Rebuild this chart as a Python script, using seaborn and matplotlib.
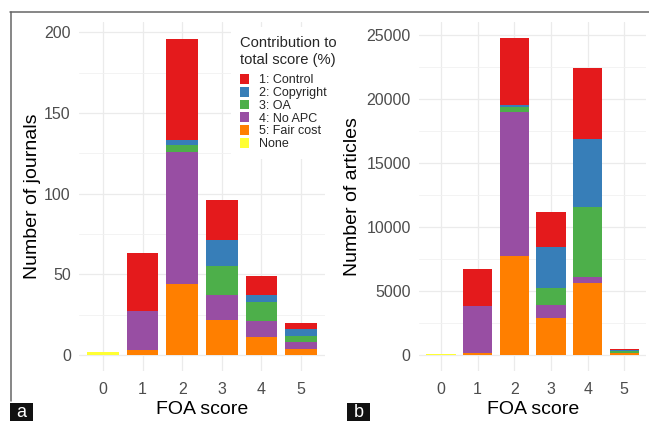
import matplotlib
matplotlib.use("Agg")
import numpy as np
import pandas as pd
import matplotlib.pyplot as plt
import seaborn as sns
from matplotlib.patches import Patch, Rectangle
from matplotlib.lines import Line2D
from matplotlib.ticker import MultipleLocator

# FOA score categories and score components
scores = [0, 1, 2, 3, 4, 5]
components = ["1: Control", "2: Copyright", "3: OA", "4: No APC", "5: Fair cost", "None"]
component_colors = ["#E41A1C", "#377EB8", "#4DAF4A", "#984EA3", "#FF7F00", "#FFFF33"]

# Panel a: number of journals per FOA score, split by contributing component
journals_control = [0, 36, 63, 25, 12, 4]
journals_copyright = [0, 0, 3, 16, 4, 4]
journals_oa = [0, 0, 4, 18, 12, 4]
journals_no_apc = [0, 24, 82, 15, 10, 4]
journals_fair_cost = [0, 3, 44, 22, 11, 4]
journals_none = [2, 0, 0, 0, 0, 0]

# Panel b: number of articles per FOA score, split by contributing component
articles_control = [0, 2850, 5200, 2800, 5550, 80]
articles_copyright = [0, 0, 150, 3150, 5300, 120]
articles_oa = [0, 0, 400, 1350, 5450, 120]
articles_no_apc = [0, 3700, 11250, 1000, 500, 60]
articles_fair_cost = [0, 150, 7750, 2900, 5600, 120]
articles_none = [80, 0, 0, 0, 0, 0]

sns.set_theme(style="white")
plt.rcParams["font.family"] = ["Liberation Sans", "DejaVu Sans"]

W, H = 649, 421
fig = plt.figure(figsize=(W / 100, H / 100), dpi=100)


def px_axes(x0, x1, y_top, y_bot):
    return fig.add_axes([x0 / W, 1 - y_bot / H, (x1 - x0) / W, (y_bot - y_top) / H])


def stacked(ax, layers):
    """layers: list of (values, color) from bottom to top."""
    df = pd.DataFrame({"score": scores})
    cum = np.zeros(len(scores))
    tops = []
    for vals, col in layers:
        cum = cum + np.asarray(vals, dtype=float)
        tops.append((cum.copy(), col))
    # draw from the tallest cumulative layer down so lower layers sit on top
    for top, col in reversed(tops):
        df["top"] = top
        sns.barplot(data=df, x="score", y="top", color=col, saturation=1,
                    width=0.8, linewidth=0, errorbar=None, ax=ax, zorder=3)


def style(ax, ylim, major, minor, ylabel, xlabel_y, ylabel_x):
    ax.set_xlim(-0.6, 5.6)
    ax.set_ylim(*ylim)
    ax.yaxis.set_major_locator(MultipleLocator(major))
    ax.yaxis.set_minor_locator(MultipleLocator(minor))
    ax.grid(True, which="major", color="#EBEBEB", linewidth=0.9, zorder=0)
    ax.grid(True, which="minor", axis="y", color="#F1F1F1", linewidth=0.6, zorder=0)
    ax.set_axisbelow(True)
    for s in ax.spines.values():
        s.set_visible(False)
    ax.tick_params(axis="both", which="both", length=0, labelsize=11.5,
                   labelcolor="#4D4D4D")
    ax.tick_params(axis="y", pad=6)
    ax.tick_params(axis="x", pad=8)
    ax.set_xlabel("FOA score", fontsize=14, color="black", va="center")
    ax.set_ylabel(ylabel, fontsize=14, color="black", va="center")
    ax.xaxis.set_label_coords(0.5, xlabel_y)
    ax.yaxis.set_label_coords(ylabel_x, 0.5)


# ---- panel a ----
ax1 = px_axes(79.2, 324.8, 22, 371)
stacked(ax1, [(journals_none, component_colors[5]),
              (journals_fair_cost, component_colors[4]),
              (journals_no_apc, component_colors[3]),
              (journals_oa, component_colors[2]),
              (journals_copyright, component_colors[1]),
              (journals_control, component_colors[0])])
style(ax1, (-9.92, 206.4), 50, 25, "Number of journals", -0.109, -0.192)

# ---- panel b ----
ax2 = px_axes(419, 646.3, 22, 371)
stacked(ax2, [(articles_none, component_colors[5]),
              (articles_fair_cost, component_colors[4]),
              (articles_no_apc, component_colors[3]),
              (articles_oa, component_colors[2]),
              (articles_copyright, component_colors[1]),
              (articles_control, component_colors[0])])
style(ax2, (-1250, 26016), 5000, 2500, "Number of articles", -0.109, -0.292)

# ---- legend ----
handles = [Patch(facecolor=c, edgecolor="none") for c in component_colors]
leg = ax1.legend(handles, components, title="Contribution to\ntotal score (%)",
                 loc="upper left", bbox_to_anchor=(231 / W, 1 - 27 / H),
                 bbox_transform=fig.transFigure, fontsize=9, title_fontsize=10.6,
                 frameon=True, facecolor="white", edgecolor="none", framealpha=1,
                 fancybox=False, borderpad=0.75, labelspacing=0.05,
                 handlelength=0.72, handleheight=0.8, handletextpad=0.75,
                 alignment="left", borderaxespad=0)
leg._legend_box.sep = 5.5  # gap between title and keys (points)
leg.set_zorder(10)

# ---- outer frame and panel tags ----
fig.add_artist(Line2D([10 / W, 1], [1 - 11.5 / H, 1 - 11.5 / H],
                      transform=fig.transFigure, color="#666666", linewidth=1.1))
fig.add_artist(Line2D([10.5 / W, 10.5 / W], [1 - 11.5 / H, 1 - 401 / H],
                      transform=fig.transFigure, color="#666666", linewidth=1.1))
for tag, x0 in (("a", 10), ("b", 346.7)):
    fig.add_artist(Rectangle((x0 / W, 0), 23.3 / W, 18.3 / H,
                             transform=fig.transFigure, facecolor="#111111",
                             edgecolor="none"))
    fig.text((x0 + 11.6) / W, 8.5 / H, tag, color="white", fontsize=13,
             ha="center", va="center")

fig.savefig("out.png", dpi=100)
